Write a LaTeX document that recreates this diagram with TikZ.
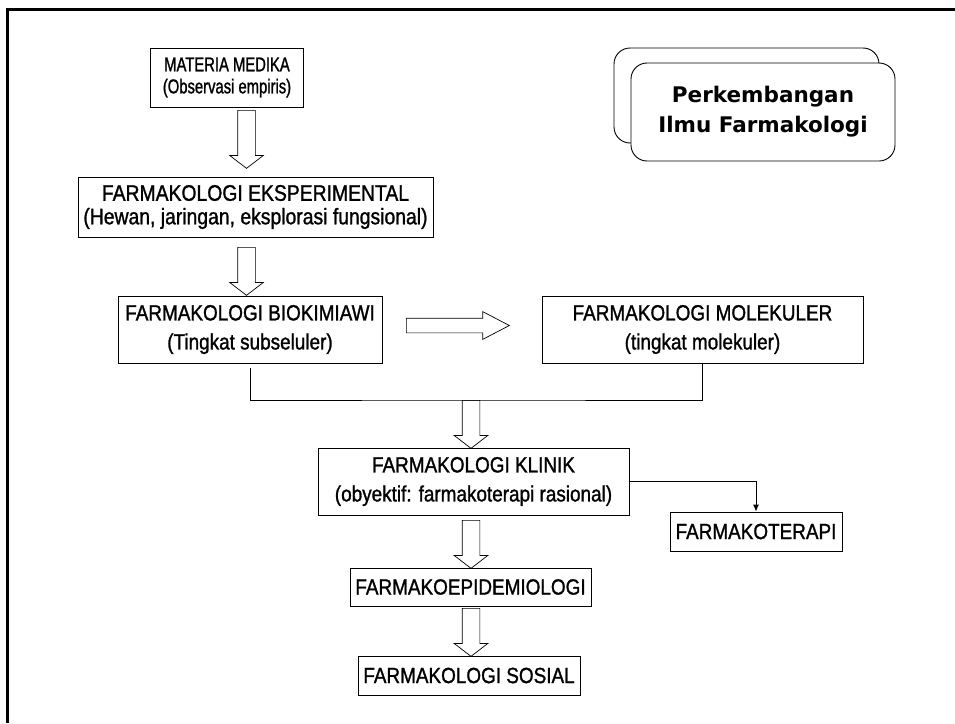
\documentclass[tikz,border=0pt]{standalone}
\usepackage{fontspec}
\setmainfont[FakeStretch=0.86,FakeBold=1.2]{Liberation Sans}
\newfontfamily\narrowfont[FakeStretch=0.74,FakeBold=1.2]{Liberation Sans}
\newfontfamily\titlefont{DejaVu Sans}
\usetikzlibrary{shapes.arrows,arrows.meta}
\tikzset{
  stage/.style={draw, line width=0.9pt, align=center, inner sep=2pt, font=\fontsize{22}{29}\selectfont},
  fatarrow/.style={draw, single arrow, line width=0.7pt, inner xsep=0pt, inner ysep=8.5pt, anchor=tail,
    minimum width=33pt, single arrow head extend=8pt, single arrow tip angle=105},
  titlebox/.style={draw, line width=0.9pt, rounded corners=16pt, fill=white}
}
\begin{document}
\begin{tikzpicture}[x=1pt,y=-1pt]
  \useasboundingbox (0,0) rectangle (955,723);
  \draw[line width=3pt] (7,723) -- (7,9) -- (955,9);

  \node[titlebox, minimum width=265pt, minimum height=95pt] (titleback) at (746.5,95.5) {};
  \node[titlebox, minimum width=264pt, minimum height=98pt, align=center,
        font=\titlefont\bfseries\fontsize{21.5}{30}\selectfont] (title) at (763,112) {Perkembangan\\Ilmu Farmakologi};

  \node[stage, minimum width=153pt, minimum height=59pt, font=\narrowfont\fontsize{20}{22}\selectfont] (materia) at (227,77.5) {MATERIA MEDIKA\\(Observasi empiris)};
  \node[stage, minimum width=355pt, minimum height=60pt, font=\fontsize{22.5}{23.5}\selectfont] (eksp) at (255.5,207) {FARMAKOLOGI EKSPERIMENTAL\\(Hewan, jaringan, eksplorasi fungsional)};
  \node[stage, minimum width=264pt, minimum height=67pt] (biokim) at (250,329.5) {FARMAKOLOGI BIOKIMIAWI\\(Tingkat subseluler)};
  \node[stage, minimum width=321pt, minimum height=67pt] (molek) at (702.5,329.5) {FARMAKOLOGI MOLEKULER\\(tingkat molekuler)};
  \node[stage, minimum width=311pt, minimum height=67pt] (klinik) at (473.5,481.5) {FARMAKOLOGI KLINIK\\(obyektif: farmakoterapi rasional)};
  \node[stage, minimum width=172pt, minimum height=39pt] (terapi) at (756,531.5) {FARMAKOTERAPI};
  \node[stage, minimum width=241pt, minimum height=38pt] (epid) at (470.5,587) {FARMAKOEPIDEMIOLOGI};
  \node[stage, minimum width=222pt, minimum height=39pt] (sosial) at (469,675.5) {FARMAKOLOGI SOSIAL};

  \coordinate (mrg) at (471,400);

  \node[fatarrow, rotate=-90, minimum height=58pt] (a1) at (246.5,110) {};
  \node[fatarrow, rotate=-90, minimum height=48pt] (a2) at (246.5,247) {};
  \node[fatarrow, minimum height=103pt, inner ysep=7pt, minimum width=27pt, single arrow head extend=6.5pt,
        single arrow tip angle=55] (a3) at (406,325.5) {};
  \node[fatarrow, rotate=-90, minimum height=48pt] (a4) at (mrg) {};
  \node[fatarrow, rotate=-90, minimum height=48pt] (a5) at (471,520) {};
  \node[fatarrow, rotate=-90, minimum height=48pt] (a6) at (471,608) {};

  \draw[line width=0.9pt] ([yshift=-5pt]biokim.south) |- (mrg) -| (molek.south);
  \draw[line width=0.9pt, -{Latex[length=7pt,width=6pt]}] (klinik.east) -| (terapi.north);
\end{tikzpicture}
\end{document}
